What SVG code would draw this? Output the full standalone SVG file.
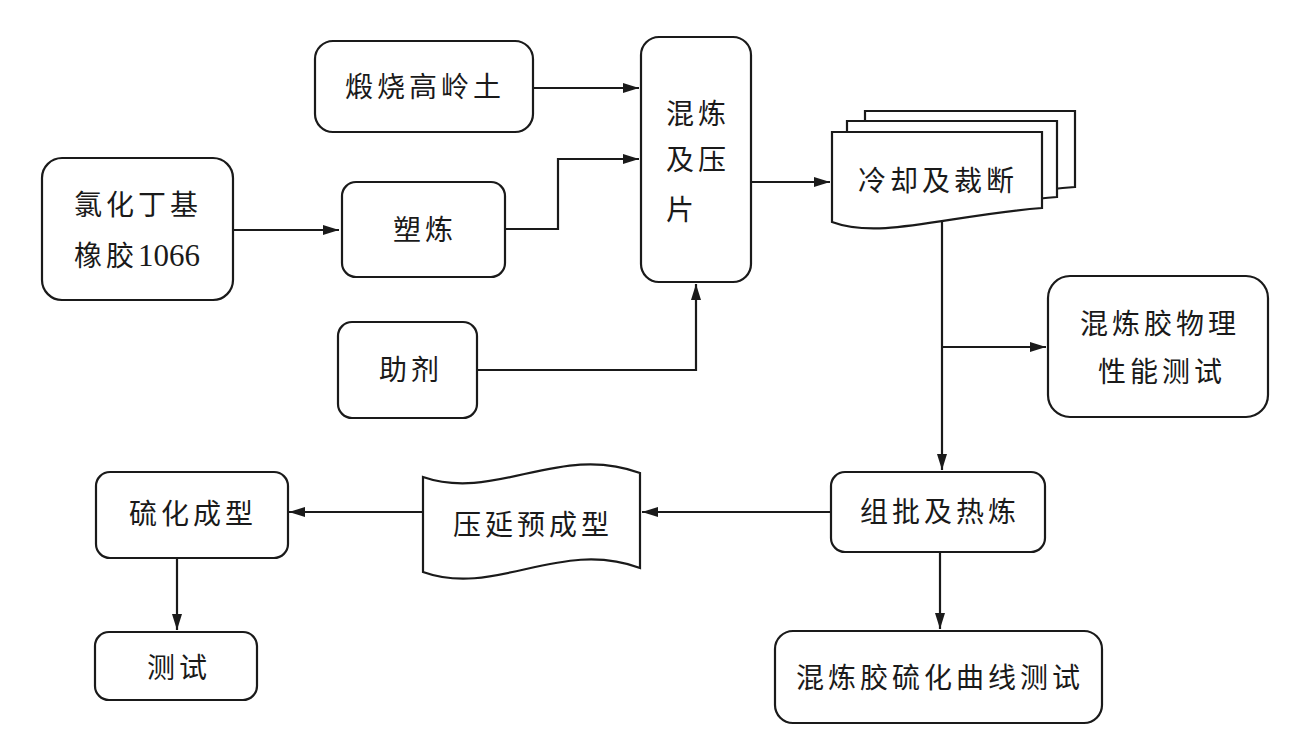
<svg xmlns="http://www.w3.org/2000/svg" xmlns:xlink="http://www.w3.org/1999/xlink" width="1311" height="737" viewBox="0 0 1311 737">
<style>
.box{fill:#fff;stroke:#1a1a1a;stroke-width:2.2}
.t{font-family:"Liberation Serif","Noto Sans CJK SC",serif;font-size:28px;fill:#1a1a1a;letter-spacing:4px}
.m{text-anchor:middle}
.ln{fill:none;stroke:#1a1a1a;stroke-width:2.2}
</style>
<defs>
<marker id="ah" markerUnits="userSpaceOnUse" markerWidth="18" markerHeight="12" refX="16" refY="6" orient="auto">
<path d="M0,1 L16,6 L0,11 Z" fill="#1a1a1a"/>
</marker>
<path id="docshape" d="M0,0 H210 V76 C118,83 48,108 0,90 Z"/>
</defs>
<rect width="1311" height="737" fill="#fff"/>

<g id="connectors">
<path class="ln" d="M533,88 H639" marker-end="url(#ah)"/>
<path class="ln" d="M233,230 H339" marker-end="url(#ah)"/>
<path class="ln" d="M505,229 H558 V159 H639" marker-end="url(#ah)"/>
<path class="ln" d="M477,370 H696 V284" marker-end="url(#ah)"/>
<path class="ln" d="M751,182 H830" marker-end="url(#ah)"/>
<path class="ln" d="M942,215 V470" marker-end="url(#ah)"/>
<path class="ln" d="M942,347 H1046" marker-end="url(#ah)"/>
<path class="ln" d="M831,512 H642" marker-end="url(#ah)"/>
<path class="ln" d="M423,512 H289" marker-end="url(#ah)"/>
<path class="ln" d="M940,552 V629" marker-end="url(#ah)"/>
<path class="ln" d="M177,558 V630" marker-end="url(#ah)"/>
</g>

<g id="n-kaolin">
<rect class="box" x="315" y="41" width="218" height="91" rx="18"/>
<text class="t m" x="425" y="97">煅烧高岭土</text>
</g>

<g id="n-mix">
<rect class="box" x="641" y="37" width="110" height="245" rx="18"/>
<text class="t" x="666" y="124">混炼</text>
<text class="t" x="666" y="170">及压</text>
<text class="t" x="666" y="220">片</text>
</g>

<g id="n-rubber">
<rect class="box" x="42" y="158" width="191" height="142" rx="20"/>
<text class="t" x="74" y="215">氯化丁基</text>
<text class="t" x="74" y="266">橡胶<tspan style="font-size:31px;letter-spacing:0">1066</tspan></text>
</g>

<g id="n-plastic">
<rect class="box" x="342" y="182" width="163" height="95" rx="14"/>
<text class="t m" x="425" y="240">塑炼</text>
</g>

<g id="n-additive">
<rect class="box" x="338" y="322" width="139" height="96" rx="14"/>
<text class="t m" x="411" y="380">助剂</text>
</g>

<g id="n-cool">
<use href="#docshape" class="box" transform="translate(865,111)"/>
<use href="#docshape" class="box" transform="translate(847,121)"/>
<use href="#docshape" class="box" transform="translate(832,132)"/>
<text class="t m" x="938" y="191">冷却及裁断</text>
</g>

<g id="n-phys">
<rect class="box" x="1048" y="276" width="220" height="141" rx="22"/>
<text class="t m" x="1160" y="334">混炼胶物理</text>
<text class="t m" x="1162" y="382">性能测试</text>
</g>

<g id="n-batch">
<rect class="box" x="831" y="472" width="214" height="80" rx="14"/>
<text class="t m" x="940" y="522">组批及热炼</text>
</g>

<g id="n-curve">
<rect class="box" x="775" y="631" width="327" height="92" rx="18"/>
<text class="t m" x="940" y="688">混炼胶硫化曲线测试</text>
</g>

<g id="n-calender">
<path class="box" d="M423,477 C495,502 560,443 640,473 V568 C560,538 495,598 423,572 Z"/>
<text class="t m" x="533" y="535">压延预成型</text>
</g>

<g id="n-vulc">
<rect class="box" x="96" y="472" width="192" height="86" rx="14"/>
<text class="t m" x="193" y="524">硫化成型</text>
</g>

<g id="n-test">
<rect class="box" x="95" y="632" width="162" height="68" rx="14"/>
<text class="t m" x="179" y="678">测试</text>
</g>
</svg>
